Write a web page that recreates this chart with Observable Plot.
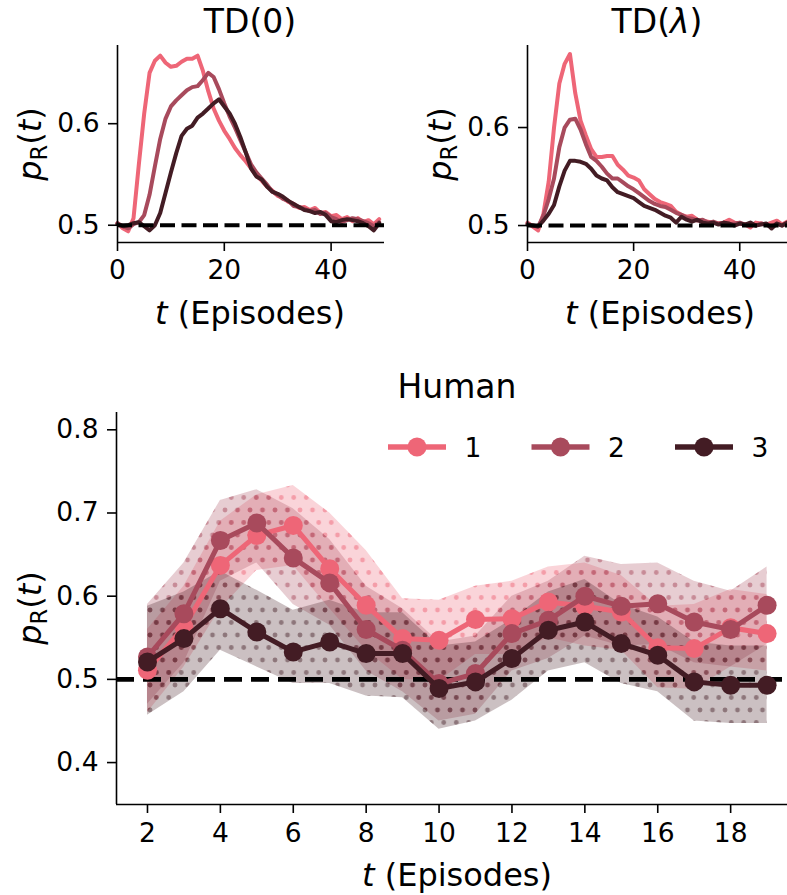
<!DOCTYPE html>
<html><head><meta charset="utf-8">
<script src="https://cdn.jsdelivr.net/npm/d3@7"></script>
<script src="https://cdn.jsdelivr.net/npm/@observablehq/plot@0.6"></script>
<style>
body{margin:0;background:#fff;}
#fig{position:relative;width:787px;height:895px;overflow:hidden;font-family:"DejaVu Sans",sans-serif;color:#000;background:#fff;}
.panel{position:absolute;}
.lbl{position:absolute;transform:translate(-50%,-50%);white-space:nowrap;line-height:1;font-size:32px;}
.ttl{font-size:33px;}
.ylab{transform:translate(-50%,-50%) rotate(-90deg);}
.lbl sub{font-size:0.7em;vertical-align:-0.25em;line-height:0;}
</style></head>
<body>
<svg width="0" height="0" style="position:absolute">
  <defs>
    <pattern id="dots0" patternUnits="userSpaceOnUse" width="12.5" height="25">
      <g fill="#ee6677" fill-opacity="0.5"><circle cx="0" cy="0" r="2.4"/><circle cx="12.5" cy="0" r="2.4"/><circle cx="0" cy="25" r="2.4"/><circle cx="12.5" cy="25" r="2.4"/><circle cx="6.25" cy="12.5" r="2.4"/></g>
    </pattern>
    <pattern id="dots1" patternUnits="userSpaceOnUse" width="12.5" height="25">
      <g fill="#a84a5c" fill-opacity="0.5"><circle cx="0" cy="0" r="2.4"/><circle cx="12.5" cy="0" r="2.4"/><circle cx="0" cy="25" r="2.4"/><circle cx="12.5" cy="25" r="2.4"/><circle cx="6.25" cy="12.5" r="2.4"/></g>
    </pattern>
    <pattern id="dots2" patternUnits="userSpaceOnUse" width="12.5" height="25">
      <g fill="#431c24" fill-opacity="0.45"><circle cx="0" cy="0" r="2.4"/><circle cx="12.5" cy="0" r="2.4"/><circle cx="0" cy="25" r="2.4"/><circle cx="12.5" cy="25" r="2.4"/><circle cx="6.25" cy="12.5" r="2.4"/></g>
    </pattern>
  </defs>
</svg>
<div id="fig">
  <div class="panel" id="pA" style="left:0;top:0"></div>
  <div class="panel" id="pB" style="left:400px;top:0"></div>
  <div class="panel" id="pC" style="left:0;top:360px"></div>
  <div class="lbl ttl" style="left:250px;top:21px">TD(0)</div>
  <div class="lbl ttl" style="left:657px;top:21px">TD(<i>λ</i>)</div>
  <div class="lbl" style="left:250px;top:313px"><i>t</i> (Episodes)</div>
  <div class="lbl" style="left:660px;top:313px"><i>t</i> (Episodes)</div>
  <div class="lbl ylab" style="left:30px;top:144px"><i>p</i><sub>R</sub>(<i>t</i>)</div>
  <div class="lbl ylab" style="left:440px;top:144px"><i>p</i><sub>R</sub>(<i>t</i>)</div>
  <div class="lbl ttl" style="left:457px;top:386px">Human</div>
  <div class="lbl ylab" style="left:30px;top:608px"><i>p</i><sub>R</sub>(<i>t</i>)</div>
  <div class="lbl" style="left:457px;top:875px"><i>t</i> (Episodes)</div>
  <div class="panel" id="legend" style="left:380px;top:425px"></div>
</div>
<script>
// ---------------- data ----------------
const seriesNames = ["1", "2", "3"];
const seriesColors = ["#ee6677", "#a84a5c", "#431c24"];

// model panels: episodes 0..49
const tdEpisodes = [0,1,2,3,4,5,6,7,8,9,10,11,12,13,14,15,16,17,18,19,20,21,22,23,24,25,26,27,28,29,30,31,32,33,34,35,36,37,38,39,40,41,42,43,44,45,46,47,48,49];
const td0Ticks = [0, 20, 40];
const tdYTicks = [0.5, 0.6];

const td0_1 = [0.502,0.497,0.494,0.507,0.560,0.610,0.650,0.662,0.667,0.660,0.656,0.657,0.661,0.664,0.664,0.667,0.652,0.632,0.615,0.603,0.593,0.585,0.576,0.569,0.563,0.556,0.549,0.544,0.538,0.534,0.529,0.527,0.523,0.521,0.517,0.518,0.515,0.517,0.512,0.513,0.509,0.510,0.506,0.508,0.504,0.507,0.503,0.505,0.501,0.506];
const td0_2 = [0.502,0.499,0.497,0.501,0.503,0.510,0.530,0.558,0.585,0.605,0.617,0.623,0.628,0.633,0.636,0.637,0.643,0.650,0.646,0.634,0.620,0.607,0.596,0.584,0.572,0.560,0.552,0.546,0.540,0.533,0.530,0.526,0.524,0.519,0.518,0.516,0.514,0.515,0.511,0.512,0.508,0.506,0.503,0.505,0.507,0.506,0.504,0.502,0.499,0.503];
const td0_3 = [0.501,0.499,0.500,0.502,0.503,0.499,0.495,0.500,0.512,0.532,0.552,0.571,0.588,0.595,0.598,0.606,0.610,0.615,0.620,0.624,0.617,0.610,0.600,0.587,0.572,0.556,0.548,0.545,0.538,0.533,0.531,0.528,0.524,0.521,0.518,0.515,0.514,0.512,0.513,0.510,0.504,0.503,0.505,0.506,0.505,0.504,0.502,0.499,0.495,0.502];

const tdl_1 = [0.503,0.499,0.495,0.512,0.545,0.600,0.645,0.665,0.675,0.635,0.607,0.592,0.578,0.570,0.570,0.571,0.571,0.562,0.557,0.551,0.549,0.546,0.537,0.532,0.527,0.524,0.522,0.520,0.514,0.511,0.509,0.510,0.506,0.505,0.504,0.503,0.502,0.503,0.506,0.503,0.502,0.501,0.498,0.503,0.502,0.501,0.503,0.505,0.501,0.504];
const tdl_2 = [0.502,0.500,0.499,0.510,0.527,0.548,0.580,0.600,0.608,0.609,0.598,0.583,0.570,0.566,0.560,0.553,0.548,0.548,0.544,0.540,0.537,0.533,0.529,0.525,0.522,0.520,0.519,0.516,0.513,0.511,0.508,0.507,0.505,0.506,0.503,0.504,0.502,0.503,0.501,0.502,0.503,0.501,0.502,0.500,0.502,0.501,0.499,0.502,0.500,0.503];
const tdl_3 = [0.501,0.500,0.499,0.505,0.512,0.521,0.540,0.556,0.566,0.566,0.565,0.563,0.558,0.551,0.548,0.546,0.539,0.534,0.532,0.530,0.528,0.524,0.520,0.518,0.516,0.513,0.510,0.508,0.503,0.509,0.506,0.504,0.506,0.503,0.502,0.503,0.501,0.503,0.502,0.500,0.502,0.501,0.503,0.500,0.501,0.502,0.497,0.502,0.500,0.503];

// human panel: episodes 2..19
const humanEpisodes = [2,3,4,5,6,7,8,9,10,11,12,13,14,15,16,17,18,19];
const humanXTicks = [2,4,6,8,10,12,14,16,18];
const humanYTicks = [0.4,0.5,0.6,0.7,0.8];

const human1 = [0.511,0.563,0.637,0.673,0.685,0.633,0.589,0.549,0.547,0.572,0.573,0.593,0.588,0.581,0.538,0.537,0.562,0.555];
const human1Lo = [0.460,0.515,0.585,0.631,0.637,0.585,0.535,0.500,0.498,0.530,0.530,0.550,0.540,0.535,0.490,0.488,0.515,0.510];
const human1Hi = [0.560,0.612,0.690,0.722,0.733,0.700,0.655,0.597,0.595,0.612,0.618,0.635,0.640,0.625,0.588,0.590,0.608,0.602];

const human2 = [0.527,0.579,0.667,0.688,0.646,0.616,0.560,0.535,0.495,0.507,0.555,0.571,0.600,0.588,0.591,0.569,0.560,0.589];
const human2Lo = [0.470,0.520,0.618,0.640,0.590,0.565,0.510,0.485,0.450,0.458,0.510,0.525,0.552,0.540,0.542,0.520,0.515,0.542];
const human2Hi = [0.590,0.640,0.715,0.728,0.705,0.668,0.612,0.585,0.545,0.552,0.600,0.618,0.648,0.638,0.640,0.618,0.606,0.635];

const human3 = [0.521,0.549,0.585,0.557,0.533,0.545,0.531,0.531,0.489,0.497,0.525,0.559,0.569,0.543,0.529,0.497,0.493,0.493];
const human3Lo = [0.457,0.485,0.535,0.515,0.495,0.495,0.480,0.478,0.440,0.450,0.475,0.510,0.520,0.495,0.485,0.450,0.447,0.447];
const human3Hi = [0.588,0.605,0.630,0.607,0.583,0.595,0.580,0.580,0.540,0.545,0.572,0.605,0.620,0.590,0.575,0.545,0.540,0.540];

const chance = 0.5;

// ---------------- drawing ----------------
const tickFont = 26.5;
const baseStyle = {fontFamily: "DejaVu Sans", fontSize: tickFont + "px", color: "#000", background: "transparent", overflow: "visible"};

function tdPlot(series, opts) {
  const rows = [];
  series.forEach((vals, i) => vals.forEach((v, j) => rows.push({t: tdEpisodes[j], v, s: seriesNames[i]})));
  return Plot.plot({
    width: opts.width, height: 340,
    marginLeft: opts.marginLeft, marginRight: opts.marginRight, marginTop: 45, marginBottom: 98,
    style: baseStyle,
    x: {domain: opts.xDomain},
    y: {domain: opts.yDomain},
    color: {domain: seriesNames, range: seriesColors},
    marks: [
      Plot.line(rows, {x: "t", y: "v", z: "s", stroke: "s", strokeWidth: 4}),
      Plot.ruleY([chance], {stroke: "#000", strokeWidth: 4, strokeDasharray: "15,6.5"}),
      Plot.ruleX([opts.xDomain[0]], {stroke: "#000", strokeWidth: 1.6}),
      Plot.ruleY([opts.yDomain[0]], {stroke: "#000", strokeWidth: 1.6}),
      Plot.axisX({ticks: td0Ticks, tickSize: 9, tickPadding: 9, fontSize: tickFont, strokeWidth: 1.6, label: null}),
      Plot.axisY({ticks: tdYTicks, tickSize: 9, tickPadding: 9, fontSize: tickFont, strokeWidth: 1.6, label: null, tickFormat: d3.format(".1f")})
    ]
  });
}

document.getElementById("pA").append(tdPlot([td0_1, td0_2, td0_3], {
  width: 400, marginLeft: 117, marginRight: 16, xDomain: [0, 50], yDomain: [0.483, 0.677]
}));
document.getElementById("pB").append(tdPlot([tdl_1, tdl_2, tdl_3], {
  width: 387, marginLeft: 127, marginRight: 0, xDomain: [0, 49], yDomain: [0.4827, 0.6837]
}));

// human
const humanSeries = [[human1, human1Lo, human1Hi], [human2, human2Lo, human2Hi], [human3, human3Lo, human3Hi]];
const humanRows = humanSeries.map(([m, lo, hi], i) =>
  humanEpisodes.map((t, j) => ({t, v: m[j], lo: lo[j], hi: hi[j], s: seriesNames[i]})));

const xDomC = [1.15, 19.56];
const yDomC = [0.3496, 0.8208];
const bandMarks = humanRows.flatMap((rows, i) => [
  Plot.areaY(rows, {x: "t", y1: "lo", y2: "hi", fill: seriesColors[i], fillOpacity: 0.28}),
  Plot.areaY(rows, {x: "t", y1: "lo", y2: "hi", fill: `url(#dots${i})`})
]);
const lineMarks = humanRows.flatMap((rows, i) => [
  Plot.line(rows, {x: "t", y: "v", stroke: seriesColors[i], strokeWidth: 5}),
  Plot.dot(rows, {x: "t", y: "v", fill: seriesColors[i], r: 9.5})
]);
document.getElementById("pC").append(Plot.plot({
  width: 787, height: 535,
  marginLeft: 116, marginRight: 0, marginTop: 52, marginBottom: 91,
  style: baseStyle,
  x: {domain: xDomC},
  y: {domain: yDomC},
  marks: [
    ...bandMarks,
    Plot.ruleY([chance], {stroke: "#000", strokeWidth: 4.8, strokeDasharray: "18,9"}),
    ...lineMarks,
    Plot.ruleX([xDomC[0]], {stroke: "#000", strokeWidth: 1.6}),
    Plot.ruleY([yDomC[0]], {stroke: "#000", strokeWidth: 1.6}),
    Plot.axisX({ticks: humanXTicks, tickSize: 9, tickPadding: 10, fontSize: tickFont, strokeWidth: 1.6, label: null}),
    Plot.axisY({ticks: humanYTicks, tickSize: 9, tickPadding: 9, fontSize: tickFont, strokeWidth: 1.6, label: null, tickFormat: d3.format(".1f")})
  ]
}));

// legend
const leg = d3.select("#legend").append("svg").attr("width", 407).attr("height", 44)
  .style("overflow", "visible").style("font-family", "DejaVu Sans");
seriesNames.forEach((name, i) => {
  const g = leg.append("g").attr("transform", `translate(${8 + i * 143.5},22)`);
  g.append("line").attr("x1", 0).attr("x2", 58).attr("y1", 0).attr("y2", 0)
    .attr("stroke", seriesColors[i]).attr("stroke-width", 5.5);
  g.append("circle").attr("cx", 29).attr("cy", 0).attr("r", 9.5).attr("fill", seriesColors[i]);
  g.append("text").attr("x", 85).attr("y", 0).attr("dy", "0.36em").attr("text-anchor", "middle")
    .attr("font-size", tickFont).text(name);
});
</script>
</body></html>
